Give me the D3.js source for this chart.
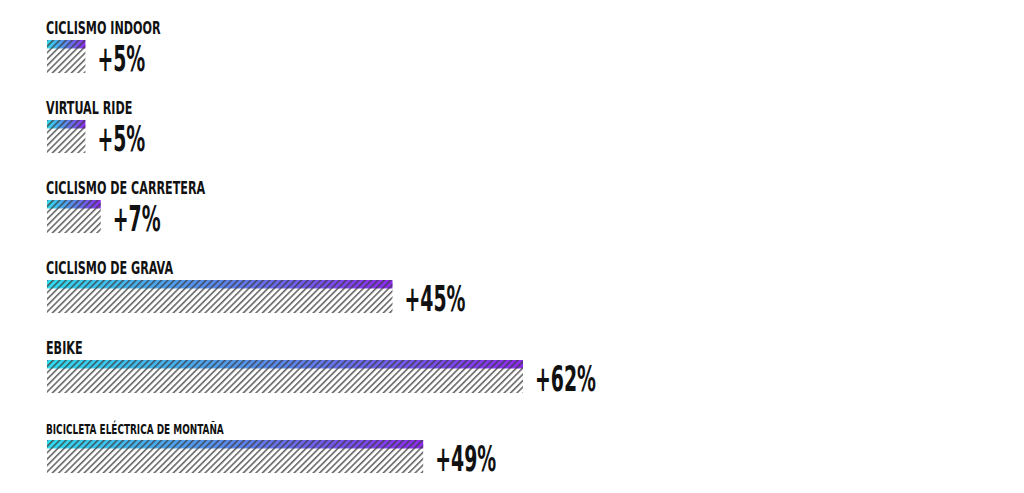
<!DOCTYPE html>
<html>
<head>
<meta charset="utf-8">
<script src="https://cdn.jsdelivr.net/npm/d3@7"></script>
<style>
  body { margin: 0; background: #fff; }
  text { font-family: "DejaVu Sans", "Liberation Sans", sans-serif; font-stretch: condensed; font-weight: bold; fill: #111; }
</style>
</head>
<body>
<div id="chart"></div>
<script>
const categories = [
  "CICLISMO INDOOR",
  "VIRTUAL RIDE",
  "CICLISMO DE CARRETERA",
  "CICLISMO DE GRAVA",
  "EBIKE",
  "BICICLETA ELÉCTRICA DE MONTAÑA"
];
const growth = [5, 5, 7, 45, 62, 49];
const valueLabels = ["+5%", "+5%", "+7%", "+45%", "+62%", "+49%"];

const width = 1024, height = 493;
const labelMaxWidth = 178;
const labelSqueeze = 0.73;

const svg = d3.select("#chart")
  .append("svg")
  .attr("width", width)
  .attr("height", height);

const defs = svg.append("defs");

const grad = defs.append("linearGradient")
  .attr("id", "barGrad")
  .attr("x1", 0).attr("x2", 1).attr("y1", 0).attr("y2", 0);
grad.append("stop").attr("offset", "0%").attr("stop-color", "#2edcf0");
grad.append("stop").attr("offset", "50%").attr("stop-color", "#5a86ee");
grad.append("stop").attr("offset", "100%").attr("stop-color", "#8c2af0");

const hatch = defs.append("pattern")
  .attr("id", "hatch")
  .attr("patternUnits", "userSpaceOnUse")
  .attr("width", 4.5)
  .attr("height", 4.5)
  .attr("patternTransform", "rotate(45)");
hatch.append("line")
  .attr("x1", 0.8).attr("y1", 0)
  .attr("x2", 0.8).attr("y2", 4.5)
  .attr("stroke", "#3c3c3c")
  .attr("stroke-width", 1.25);

const x = d3.scaleLinear()
  .domain([0, d3.max(growth)])
  .range([47, 523]);

const y = d3.scaleBand()
  .domain(categories)
  .range([16, 496]);

const data = categories.map((c, i) => ({ cat: c, value: growth[i], label: valueLabels[i] }));

const row = svg.selectAll(".row")
  .data(data)
  .join("g")
  .attr("class", "row")
  .attr("transform", d => `translate(0, ${y(d.cat)})`);

// category label, squeezed; long ones shrink to fit
row.append("text")
  .style("font-size", "17px")
  .text(d => d.cat)
  .each(function () {
    const w = this.getComputedTextLength() * labelSqueeze;
    const k = w > labelMaxWidth ? labelMaxWidth / w : 1;
    const ky = Math.max(k, 0.82);
    d3.select(this).attr("transform", `translate(46, 18) scale(${labelSqueeze * k}, ${ky})`);
  });

// white base + gradient top band + hatch over the whole bar
row.append("rect")
  .attr("x", x(0))
  .attr("y", 24)
  .attr("width", d => x(d.value) - x(0))
  .attr("height", 33)
  .attr("fill", "#fff");

row.append("rect")
  .attr("x", x(0))
  .attr("y", 24)
  .attr("width", d => x(d.value) - x(0))
  .attr("height", 8.5)
  .attr("fill", "url(#barGrad)");

row.append("rect")
  .attr("x", x(0))
  .attr("y", 24)
  .attr("width", d => x(d.value) - x(0))
  .attr("height", 33)
  .attr("fill", "url(#hatch)");

row.append("text")
  .attr("transform", d => `translate(${x(d.value) + 12}, 55) scale(0.6, 1)`)
  .style("font-size", "35px")
  .text(d => d.label);
</script>
</body>
</html>
